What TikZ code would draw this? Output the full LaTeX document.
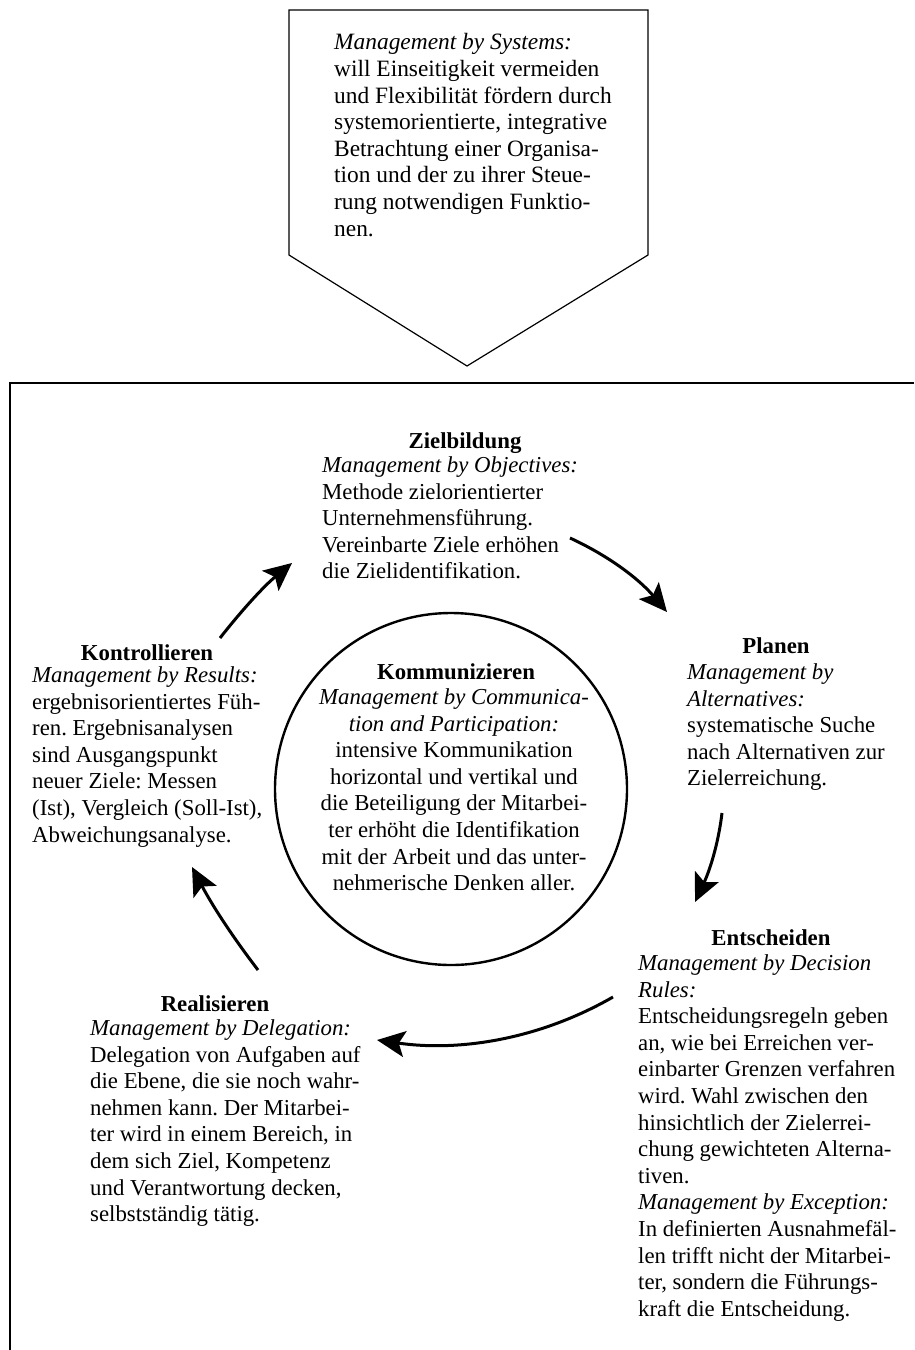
\documentclass[tikz,border=0pt]{standalone}
\usepackage{fontspec}
\setmainfont{Liberation Serif}
\usetikzlibrary{arrows.meta}
\frenchspacing

\begin{document}
\begin{tikzpicture}[x=1pt, y=-1pt,
  every node/.style={inner sep=0pt, font=\fontsize{22.8}{26.6}\selectfont},
  head/.style={anchor=base, font=\fontsize{22.8}{26.6}\selectfont\bfseries},
  txt/.style={anchor=north west, yshift=18.62pt, align=left, execute at begin node=\strut},
  ctxt/.style={anchor=north, yshift=18.62pt, align=center, execute at begin node=\strut},
  cyc/.style={line width=3pt, -{Stealth[length=28pt, width=26pt, inset=6pt, fill=black]}},
  frame/.style={line width=1.8pt},
  penta/.style={line width=1.2pt, line join=miter},
  ring/.style={line width=2.4pt}]
  \useasboundingbox (0,0) rectangle (914,1350);

  \draw[penta] (289,10) -- (648,10) -- (648,255) -- (467,366) -- (289,255) -- cycle;
  \node[txt, font=\fontsize{23.4}{26.6}\selectfont] (sys) at (334,52)
    {\textit{Management by Systems:}\\ will Einseitigkeit vermeiden\\
     und Flexibilität fördern durch\\ systemorientierte, integrative\\
     Betrachtung einer Organisa-\\ tion und der zu ihrer Steue-\\
     rung notwendigen Funktio-\\ nen.};

  \draw[frame] (914,383) -- (10,383) -- (10,1350);
  \draw[ring] (451,789) circle[radius=176pt];

  \node[head] (ziel) at (465,448) {Zielbildung};
  \node[txt] (zieltxt) at (322,475)
    {\textit{Management by Objectives:}\\ Methode zielorientierter\\
     Unternehmensführung.\\ Vereinbarte Ziele erhöhen\\ die Zielidentifikation.};

  \node[head] (plan) at (776,653) {Planen};
  \node[txt] (plantxt) at (687,682)
    {\textit{Management by}\\ \textit{Alternatives:}\\ systematische Suche\\
     nach Alternativen zur\\ Zielerreichung.};

  \node[head] (ents) at (771,945) {Entscheiden};
  \node[txt] (entstxt) at (638,973)
    {\textit{Management by Decision}\\ \textit{Rules:}\\
     Entscheidungsregeln geben\\ an, wie bei Erreichen ver-\\
     einbarter Grenzen verfahren\\ wird. Wahl zwischen den\\
     hinsichtlich der Zielerrei-\\ chung gewichteten Alterna-\\ tiven.\\
     \textit{Management by Exception:}\\ In definierten Ausnahmefäl-\\
     len trifft nicht der Mitarbei-\\ ter, sondern die Führungs-\\
     kraft die Entscheidung.};

  \node[head] (real) at (215,1011) {Realisieren};
  \node[txt] (realtxt) at (90,1038)
    {\textit{Management by Delegation:}\\ Delegation von Aufgaben auf\\
     die Ebene, die sie noch wahr-\\ nehmen kann. Der Mitarbei-\\
     ter wird in einem Bereich, in\\ dem sich Ziel, Kompetenz\\
     und Verantwortung decken,\\ selbstständig tätig.};

  \node[head] (kontr) at (147,660) {Kontrollieren};
  \node[txt] (kontrtxt) at (32,685)
    {\textit{Management by Results:}\\ ergebnisorientiertes Füh-\\
     ren. Ergebnisanalysen\\ sind Ausgangspunkt\\ neuer Ziele: Messen\\
     (Ist), Vergleich (Soll-Ist),\\ Abweichungsanalyse.};

  \node[head] (komm) at (456,679) {Kommunizieren};
  \node[ctxt] (kommtxt) at (454,707)
    {\textit{Management by Communica-}\\ \textit{tion and Participation:}\\
     intensive Kommunikation\\ horizontal und vertikal und\\
     die Beteiligung der Mitarbei-\\ ter erhöht die Identifikation\\
     mit der Arbeit und das unter-\\ nehmerische Denken aller.};

  \coordinate (k1) at (220,638); \coordinate (z1) at (292,563);
  \coordinate (z2) at (570,538); \coordinate (p1) at (667,612);
  \coordinate (p2) at (722,813); \coordinate (e1) at (695,902);
  \coordinate (e2) at (613,997); \coordinate (r1) at (377,1040);
  \coordinate (r2) at (258,970); \coordinate (k2) at (192,867);
  \draw[cyc] (k1) .. controls +(22,-28) and +(-28,23) .. (z1);
  \draw[cyc] (z2) .. controls +(39,18) and +(-28,-33) .. (p1);
  \draw[cyc] (p2) .. controls +(-4,33) and +(14,-30) .. (e1);
  \draw[cyc] (e2) .. controls +(-73,42) and +(83,12) .. (r1);
  \draw[cyc] (r2) .. controls +(-26,-34) and +(20,38) .. (k2);
\end{tikzpicture}
\end{document}
